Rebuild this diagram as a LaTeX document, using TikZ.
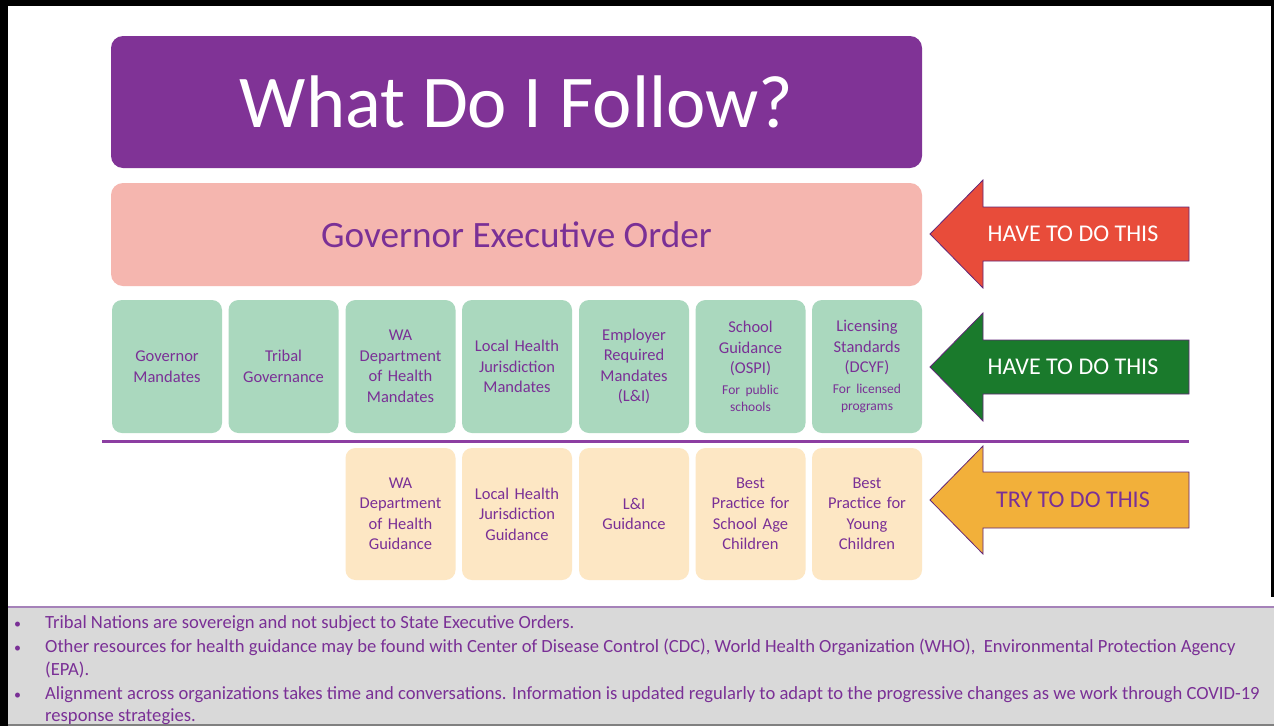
\documentclass[tikz,border=0pt]{standalone}
\usepackage{fontspec}
\setmainfont{Carlito}
\definecolor{titlepurple}{RGB}{128,51,150}
\definecolor{tpurple}{RGB}{122,48,150}
\definecolor{pinkbox}{RGB}{245,182,175}
\definecolor{lgreen}{RGB}{170,216,190}
\definecolor{dgreen}{RGB}{26,122,44}
\definecolor{redarrow}{RGB}{232,76,58}
\definecolor{orarrow}{RGB}{242,176,58}
\definecolor{peach}{RGB}{253,231,196}
\definecolor{linepurple}{RGB}{140,62,162}
\definecolor{graybox}{RGB}{217,217,217}
\definecolor{graytop}{RGB}{165,130,185}
\newcommand{\smalltxt}{\fontsize{13.5}{17}\selectfont}
\begin{document}
\begin{tikzpicture}[x=1pt,y=-1pt,
  cellbox/.style={rounded corners=10pt, minimum width=110pt, minimum height=133pt,
    inner sep=0pt, text=tpurple, align=center, text width=108pt,
    font=\fontsize{16.5}{20.5}\selectfont},
  greencell/.style={cellbox, fill=lgreen},
  peachcell/.style={cellbox, fill=peach, minimum height=132pt},
  bigarrow/.style={draw=tpurple!80!black, line width=0.8pt},
  arrowtext/.style={font=\fontsize{24}{26}\selectfont, inner sep=0pt},
  notetext/.style={anchor=base west, text=tpurple, inner sep=0pt, font=\fontsize{18.6}{20}\selectfont},
  bullet/.style={anchor=base west, text=tpurple, inner sep=0pt, font=\fontsize{14}{20}\selectfont}
]
\useasboundingbox (0,0) rectangle (1274,726);
% frame
\fill[white] (0,0) rectangle (1274,726);
\fill[black] (0,0) rectangle (1274,6);
\fill[black] (0,0) rectangle (8,726);
\fill[black] (1271,0) rectangle (1274,597);

% title
\node[fill=titlepurple, rounded corners=12pt, minimum width=811pt, minimum height=132pt,
  inner sep=0pt, text=white, font=\fontsize{74.5}{80}\selectfont] (title) at (516.5,102) {What Do I Follow?};

% governor executive order
\node[fill=pinkbox, rounded corners=12pt, minimum width=811pt, minimum height=103pt,
  inner sep=0pt, text=tpurple, font=\fontsize{37.2}{40}\selectfont] (geo) at (516.5,234.5) {Governor Executive Order};

% green row
\node[greencell] (g1) at (167,366.5) {Governor\\Mandates};
\node[greencell] (g2) at (283.5,366.5) {Tribal\\Governance};
\node[greencell] (g3) at (400.5,366.5) {WA\\Department\\of Health\\Mandates};
\node[greencell] (g4) at (517,366.5) {Local Health\\Jurisdiction\\Mandates};
\node[greencell] (g5) at (634,366.5) {Employer\\Required\\Mandates\\(L\&I)};
\node[greencell] (g6) at (750.5,366.5) {School\\Guidance\\(OSPI)\\{\smalltxt For public}\\[-3.5pt]{\smalltxt schools}};
\node[greencell] (g7) at (867,366.5) {Licensing\\Standards\\(DCYF)\\{\smalltxt For licensed}\\[-3.5pt]{\smalltxt programs}};

% divider
\coordinate (dl) at (102,441);
\coordinate (dr) at (1189,441);
\draw[linepurple, line width=3pt] (dl) -- (dr);

% peach row
\node[peachcell] (p3) at (400.5,514) {WA\\Department\\of Health\\Guidance};
\node[peachcell] (p4) at (517,514) {Local Health\\Jurisdiction\\Guidance};
\node[peachcell] (p5) at (634,514) {L\&I\\Guidance};
\node[peachcell] (p6) at (750.5,514) {Best\\Practice for\\School Age\\Children};
\node[peachcell] (p7) at (867,514) {Best\\Practice for\\Young\\Children};

% arrows
\fill[redarrow] (930,234) -- (983,180) -- (983,207) -- (1189,207) -- (1189,261) -- (983,261) -- (983,288) -- cycle;
\draw[bigarrow] (930,234) -- (983,180) -- (983,207) -- (1189,207) -- (1189,261) -- (983,261) -- (983,288) -- cycle;
\node[arrowtext, text=white] (a1) at (1073,234) {HAVE TO DO THIS};

\fill[dgreen] (930,367) -- (983,313) -- (983,340) -- (1189,340) -- (1189,394) -- (983,394) -- (983,421) -- cycle;
\draw[bigarrow] (930,367) -- (983,313) -- (983,340) -- (1189,340) -- (1189,394) -- (983,394) -- (983,421) -- cycle;
\node[arrowtext, text=white] (a2) at (1073,367) {HAVE TO DO THIS};

\fill[orarrow] (930,500) -- (983,446) -- (983,472) -- (1189,472) -- (1189,528) -- (983,528) -- (983,554) -- cycle;
\draw[bigarrow] (930,500) -- (983,446) -- (983,472) -- (1189,472) -- (1189,528) -- (983,528) -- (983,554) -- cycle;
\node[arrowtext, text=tpurple] (a3) at (1073,500) {TRY TO DO THIS};

% notes box
\fill[graybox] (8,607) rectangle (1274,725);
\draw[graytop, line width=1.5pt] (8,607) -- (1274,607);
\draw[gray, line width=1.5pt] (8,725) -- (1274,725);

\node[bullet] (b1) at (14,628) {•};
\node[notetext] (n1) at (45,628) {Tribal Nations are sovereign and not subject to State Executive Orders.};
\node[bullet] (b2) at (14,652) {•};
\node[notetext] (n2) at (45,652) {Other resources for health guidance may be found with Center of Disease Control (CDC), World Health Organization (WHO),\ \ Environmental Protection Agency};
\node[notetext] (n2b) at (45,675) {(EPA).};
\node[bullet] (b3) at (14,699) {•};
\node[notetext] (n3) at (45,699) {Alignment across organizations takes time and conversations. Information is updated regularly to adapt to the progressive changes as we work through COVID-19};
\node[notetext] (n3b) at (45,721) {response strategies.};
\end{tikzpicture}
\end{document}
